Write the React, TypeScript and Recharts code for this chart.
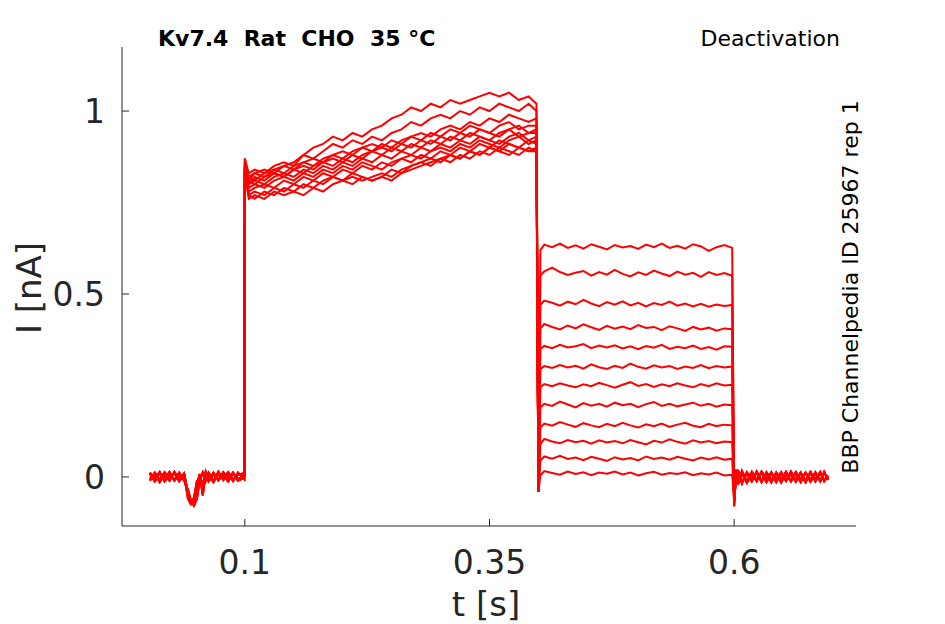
import { LineChart, Line, XAxis, YAxis } from 'recharts'

// time bases for the four protocol segments (s)
const tPre = [0.003, 0.008, 0.013, 0.018, 0.023, 0.028, 0.033, 0.038, 0.042, 0.045, 0.048, 0.051, 0.054, 0.057, 0.06, 0.063, 0.068, 0.073, 0.078, 0.083, 0.088, 0.093, 0.0995]
const tPulse = [0.1, 0.104, 0.11, 0.12, 0.13, 0.14, 0.15, 0.16, 0.17, 0.18, 0.19, 0.2, 0.21, 0.22, 0.23, 0.24, 0.25, 0.26, 0.27, 0.28, 0.29, 0.3, 0.31, 0.32, 0.33, 0.34, 0.35, 0.36, 0.37, 0.38, 0.39, 0.398]
const tTail = [0.4, 0.402, 0.406, 0.414, 0.422, 0.43, 0.438, 0.446, 0.454, 0.462, 0.47, 0.478, 0.486, 0.494, 0.502, 0.51, 0.518, 0.526, 0.534, 0.542, 0.55, 0.558, 0.566, 0.574, 0.582, 0.59, 0.598]
const tPost = [0.6, 0.6015, 0.604, 0.608, 0.613, 0.618, 0.623, 0.628, 0.633, 0.638, 0.643, 0.648, 0.653, 0.658, 0.663, 0.668, 0.673, 0.678, 0.683, 0.688, 0.692, 0.696]

// holding baseline before the step (nA)
const preA = [0.008, -0.012, 0.01, -0.006, 0.014, -0.01, 0.006, -0.004, -0.05, -0.07, -0.064, -0.02, 0.008, -0.05, 0.01, -0.008, 0.012, -0.01, 0.006, -0.012, 0.01, -0.006, 0.004]
const preB = [-0.01, 0.012, -0.008, 0.013, -0.004, 0.011, -0.012, 0.008, -0.06, -0.075, -0.07, -0.055, 0.006, -0.03, -0.006, 0.012, -0.01, 0.014, -0.008, 0.009, -0.011, 0.012, -0.006]
const preC = [0.012, -0.004, 0.014, -0.012, 0.005, -0.008, 0.012, -0.01, -0.035, -0.065, -0.078, -0.06, -0.01, 0.012, -0.012, 0.006, -0.014, 0.008, -0.004, 0.013, -0.008, 0.006, 0.01]
const preD = [-0.004, 0.008, -0.014, 0.006, -0.01, 0.014, -0.005, 0.01, -0.045, -0.068, -0.058, -0.012, -0.004, -0.02, 0.014, -0.012, 0.006, -0.006, 0.013, -0.004, 0.012, -0.01, -0.002]

// baseline after the tail (nA)
const postA = [-0.08, 0.012, -0.02, 0.016, -0.012, 0.014, -0.008, 0.012, -0.014, 0.01, -0.006, 0.013, -0.011, 0.008, -0.013, 0.012, -0.009, 0.014, -0.012, 0.01, -0.008, 0.004]
const postB = [-0.06, -0.022, 0.018, -0.014, 0.01, -0.012, 0.015, -0.01, 0.008, -0.015, 0.012, -0.008, 0.014, -0.012, 0.01, -0.014, 0.012, -0.007, 0.013, -0.012, 0.014, -0.006]
const postC = [-0.07, 0.02, -0.012, 0.01, -0.016, 0.008, -0.012, 0.015, -0.006, 0.013, -0.014, 0.009, -0.01, 0.015, -0.008, 0.01, -0.015, 0.011, -0.006, 0.014, -0.012, 0.002]
const postD = [-0.05, -0.01, 0.014, -0.018, 0.013, -0.006, 0.011, -0.014, 0.013, -0.008, 0.01, -0.015, 0.007, -0.01, 0.014, -0.006, 0.012, -0.013, 0.009, -0.01, 0.012, -0.008]

// activating pulse, one row per sweep (nA)
const pulses = [
  [0.87, 0.83, 0.84, 0.83, 0.85, 0.86, 0.85, 0.88, 0.9, 0.91, 0.93, 0.92, 0.94, 0.93, 0.95, 0.96, 0.98, 0.99, 1.01, 1.0, 1.02, 1.01, 1.03, 1.02, 1.03, 1.04, 1.05, 1.04, 1.05, 1.03, 1.04, 1.02],
  [0.86, 0.82, 0.83, 0.84, 0.83, 0.85, 0.86, 0.88, 0.87, 0.89, 0.91, 0.9, 0.92, 0.91, 0.93, 0.92, 0.94, 0.95, 0.97, 0.96, 0.98, 0.99, 0.98, 1.0, 0.99, 1.01, 1.0, 1.02, 1.01, 1.0, 1.02, 1.0],
  [0.85, 0.81, 0.83, 0.82, 0.84, 0.85, 0.84, 0.86, 0.87, 0.86, 0.88, 0.89, 0.88, 0.9, 0.91, 0.9, 0.92, 0.91, 0.93, 0.94, 0.93, 0.95, 0.96, 0.95, 0.97, 0.96, 0.98, 0.97, 0.99, 0.98, 0.97, 0.98],
  [0.87, 0.82, 0.81, 0.83, 0.84, 0.83, 0.85, 0.86, 0.85, 0.87, 0.88, 0.87, 0.89, 0.9, 0.89, 0.91, 0.9, 0.92, 0.93, 0.92, 0.94, 0.93, 0.95, 0.94, 0.96, 0.95, 0.94, 0.96, 0.97, 0.95, 0.96, 0.96],
  [0.85, 0.8, 0.82, 0.81, 0.83, 0.82, 0.84, 0.85, 0.84, 0.86, 0.87, 0.86, 0.88, 0.87, 0.89, 0.9, 0.89, 0.91, 0.9, 0.92, 0.91, 0.93, 0.92, 0.94, 0.93, 0.95, 0.94, 0.93, 0.95, 0.96, 0.94, 0.95],
  [0.86, 0.81, 0.8, 0.82, 0.83, 0.82, 0.84, 0.83, 0.85, 0.86, 0.85, 0.87, 0.86, 0.88, 0.89, 0.88, 0.9, 0.89, 0.91, 0.9, 0.92, 0.91, 0.93, 0.92, 0.94, 0.93, 0.92, 0.94, 0.95, 0.93, 0.94, 0.94],
  [0.84, 0.8, 0.81, 0.8, 0.82, 0.83, 0.82, 0.84, 0.83, 0.85, 0.84, 0.86, 0.85, 0.87, 0.86, 0.88, 0.87, 0.89, 0.88, 0.9, 0.89, 0.91, 0.9, 0.92, 0.91, 0.93, 0.92, 0.91, 0.93, 0.94, 0.92, 0.93],
  [0.85, 0.79, 0.8, 0.79, 0.81, 0.82, 0.81, 0.83, 0.82, 0.84, 0.83, 0.85, 0.84, 0.86, 0.85, 0.84, 0.86, 0.87, 0.88, 0.87, 0.89, 0.9, 0.89, 0.91, 0.9, 0.92, 0.91, 0.9, 0.92, 0.93, 0.91, 0.92],
  [0.84, 0.78, 0.79, 0.8, 0.79, 0.81, 0.8, 0.82, 0.81, 0.83, 0.82, 0.84, 0.83, 0.85, 0.84, 0.86, 0.85, 0.87, 0.86, 0.88, 0.87, 0.89, 0.88, 0.9, 0.89, 0.91, 0.9, 0.92, 0.91, 0.9, 0.92, 0.91],
  [0.83, 0.77, 0.78, 0.77, 0.79, 0.78, 0.8, 0.79, 0.81, 0.8, 0.82, 0.81, 0.83, 0.82, 0.81, 0.82, 0.84, 0.83, 0.85, 0.86, 0.85, 0.87, 0.88, 0.87, 0.89, 0.88, 0.9, 0.89, 0.91, 0.9, 0.89, 0.9],
  [0.84, 0.77, 0.76, 0.78, 0.77, 0.79, 0.78, 0.8, 0.79, 0.81, 0.82, 0.81, 0.82, 0.81, 0.82, 0.83, 0.82, 0.84, 0.85, 0.86, 0.87, 0.86, 0.88, 0.87, 0.89, 0.88, 0.9, 0.89, 0.88, 0.9, 0.89, 0.89],
  [0.83, 0.76, 0.77, 0.76, 0.78, 0.77, 0.78, 0.77, 0.79, 0.78, 0.8, 0.81, 0.8, 0.82, 0.81, 0.82, 0.81, 0.83, 0.84, 0.85, 0.86, 0.87, 0.86, 0.88, 0.87, 0.89, 0.88, 0.9, 0.89, 0.88, 0.9, 0.89],
]

// deactivation tails, one row per sweep (nA); first point is the capacitive dip
const tails = [
  [-0.04, 0.62, 0.635, 0.628, 0.638, 0.626, 0.633, 0.624, 0.636, 0.629, 0.622, 0.634, 0.627, 0.631, 0.623, 0.635, 0.628, 0.638, 0.626, 0.632, 0.624, 0.636, 0.63, 0.618, 0.628, 0.634, 0.626],
  [-0.04, 0.55, 0.562, 0.572, 0.56, 0.552, 0.558, 0.563, 0.55, 0.56, 0.553, 0.566, 0.555, 0.548, 0.559, 0.552, 0.564, 0.556, 0.549, 0.561, 0.553, 0.558, 0.547, 0.56, 0.552, 0.557, 0.55],
  [-0.04, 0.47, 0.482, 0.476, 0.468, 0.479, 0.472, 0.484, 0.474, 0.467, 0.478, 0.471, 0.48, 0.469, 0.476, 0.466, 0.475, 0.47, 0.479, 0.468, 0.474, 0.466, 0.473, 0.465, 0.471, 0.467, 0.47],
  [-0.04, 0.406, 0.418, 0.41, 0.403, 0.414, 0.406, 0.417, 0.409, 0.402, 0.413, 0.405, 0.411, 0.404, 0.415, 0.407, 0.41, 0.401, 0.412, 0.406, 0.399, 0.41, 0.403, 0.408, 0.4, 0.406, 0.404],
  [-0.04, 0.35, 0.358, 0.352, 0.361, 0.354, 0.357, 0.363, 0.352, 0.359, 0.354, 0.36, 0.351, 0.357, 0.349, 0.358, 0.353, 0.361, 0.35, 0.356, 0.352, 0.359, 0.35, 0.355, 0.348, 0.357, 0.356],
  [-0.04, 0.295, 0.303, 0.298, 0.306, 0.299, 0.304, 0.296, 0.308, 0.3, 0.295, 0.304, 0.298, 0.31, 0.301, 0.296, 0.305, 0.299, 0.303, 0.295, 0.302, 0.298, 0.306, 0.297, 0.303, 0.299, 0.302],
  [-0.04, 0.245, 0.254, 0.248, 0.256, 0.25, 0.245, 0.253, 0.248, 0.257, 0.251, 0.244, 0.252, 0.259, 0.249, 0.254, 0.246, 0.253, 0.248, 0.256, 0.25, 0.245, 0.254, 0.248, 0.256, 0.25, 0.252],
  [-0.04, 0.19, 0.2, 0.194, 0.206, 0.198, 0.19, 0.202, 0.195, 0.2, 0.192, 0.203, 0.196, 0.2, 0.191, 0.199, 0.205, 0.194, 0.2, 0.193, 0.198, 0.203, 0.195, 0.2, 0.192, 0.198, 0.196],
  [-0.04, 0.135, 0.146, 0.14, 0.15, 0.143, 0.137, 0.147, 0.141, 0.136, 0.145, 0.139, 0.148, 0.141, 0.135, 0.144, 0.139, 0.146, 0.137, 0.143, 0.148, 0.14, 0.136, 0.145, 0.139, 0.143, 0.141],
  [-0.04, 0.09, 0.104, 0.097, 0.092, 0.101, 0.095, 0.099, 0.091, 0.1, 0.094, 0.098, 0.092, 0.101, 0.095, 0.089, 0.099, 0.094, 0.103, 0.096, 0.091, 0.1, 0.094, 0.098, 0.092, 0.097, 0.095],
  [-0.04, 0.045, 0.056, 0.05, 0.058, 0.049, 0.053, 0.046, 0.055, 0.05, 0.044, 0.054, 0.048, 0.052, 0.045, 0.056, 0.049, 0.053, 0.047, 0.055, 0.05, 0.045, 0.053, 0.048, 0.054, 0.047, 0.05],
  [-0.04, 0.004, 0.016, 0.011, 0.006, 0.015, 0.008, 0.013, 0.005, 0.012, 0.009, 0.015, 0.007, 0.012, 0.004, 0.01, 0.014, 0.006, 0.011, 0.008, 0.013, 0.005, 0.01, 0.007, 0.012, 0.004, 0.006],
]

const preSets = [preA, preB, preC, preD]
const postSets = [postA, postB, postC, postD]

const xTicks = [0.1, 0.35, 0.6]
const yTicks = [0, 0.5, 1]

const FONT = 'DejaVu Sans, sans-serif'
const AXIS = '#262626'
const TICK_MARGIN = 12

function buildSweep(k: number) {
  const pre = preSets[k % 4]
  const post = postSets[(k + 2) % 4]
  const pts: { t: number; i: number }[] = []
  tPre.forEach((t, j) => pts.push({ t, i: pre[j] }))
  tPulse.forEach((t, j) => pts.push({ t, i: pulses[k][j] }))
  tTail.forEach((t, j) => pts.push({ t, i: tails[k][j] }))
  tPost.forEach((t, j) => pts.push({ t, i: post[j] }))
  return pts
}

const sweeps = pulses.map((_, k) => buildSweep(k))

// MATLAB-like inward ticks
function XTick({ x, y, payload }: any) {
  const axisY = y - TICK_MARGIN
  return (
    <g>
      <line x1={x} x2={x} y1={axisY} y2={axisY - 7} stroke={AXIS} strokeWidth={1} />
      <text x={x} y={y} dy={36} textAnchor="middle" fill={AXIS} fontSize={33} fontFamily={FONT}>
        {String(payload.value)}
      </text>
    </g>
  )
}

function YTick({ x, y, payload }: any) {
  const axisX = x + TICK_MARGIN
  return (
    <g>
      <line x1={axisX} x2={axisX + 7} y1={y} y2={y} stroke={AXIS} strokeWidth={1} />
      <text x={x - 5} y={y} dy={12} textAnchor="end" fill={AXIS} fontSize={33} fontFamily={FONT}>
        {String(payload.value)}
      </text>
    </g>
  )
}

export default function App() {
  return (
    <div style={{ position: 'absolute', left: 0, top: 0, width: 945, height: 624, background: '#fff', fontFamily: FONT }}>
      <LineChart width={945} height={624} margin={{ top: 47, right: 89, bottom: 0, left: 0 }}>
        <XAxis
          type="number"
          dataKey="t"
          domain={[-0.0255, 0.7245]}
          ticks={xTicks}
          allowDataOverflow
          height={98}
          tickSize={0}
          tickMargin={TICK_MARGIN}
          tick={<XTick />}
          stroke={AXIS}
        />
        <YAxis
          type="number"
          dataKey="i"
          domain={[-0.134, 1.175]}
          ticks={yTicks}
          allowDataOverflow
          width={122}
          tickSize={0}
          tickMargin={TICK_MARGIN}
          tick={<YTick />}
          stroke={AXIS}
        />
        {sweeps.map((d, k) => (
          <Line
            key={k}
            data={d}
            dataKey="i"
            type="linear"
            stroke="#ff0000"
            strokeWidth={2}
            dot={false}
            activeDot={false}
            isAnimationActive={false}
          />
        ))}
      </LineChart>

      <div style={{ position: 'absolute', left: 158, top: 26, fontSize: 22, fontWeight: 'bold', color: '#000', whiteSpace: 'pre' }}>
        {'Kv7.4  Rat  CHO  35 °C'}
      </div>
      <div style={{ position: 'absolute', right: 105, top: 26, fontSize: 22, color: '#000' }}>Deactivation</div>
      <div
        style={{
          position: 'absolute',
          left: 850,
          top: 287,
          fontSize: 22,
          color: '#000',
          whiteSpace: 'nowrap',
          transform: 'translate(-50%, -50%) rotate(-90deg)',
        }}
      >
        BBP Channelpedia ID 25967 rep 1
      </div>
      <div style={{ position: 'absolute', left: 486, top: 604, fontSize: 34, color: AXIS, whiteSpace: 'nowrap', transform: 'translate(-50%, -50%)' }}>
        t [s]
      </div>
      <div
        style={{
          position: 'absolute',
          left: 29,
          top: 288,
          fontSize: 34,
          color: AXIS,
          whiteSpace: 'nowrap',
          transform: 'translate(-50%, -50%) rotate(-90deg)',
        }}
      >
        I [nA]
      </div>
    </div>
  )
}
